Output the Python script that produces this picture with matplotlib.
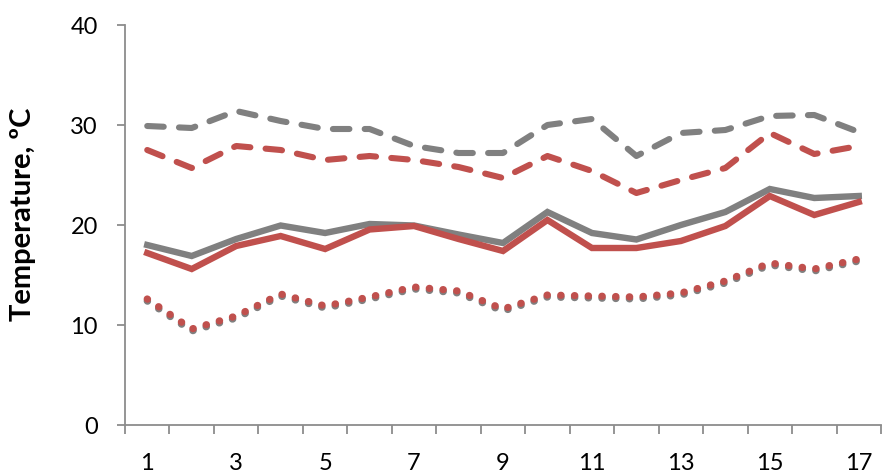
import numpy as np
import matplotlib
matplotlib.use("Agg")
import matplotlib.pyplot as plt
from matplotlib.ticker import FixedLocator

# Données
jours = list(range(1, 18))
gris_tirets = [29.9, 29.7, 31.4, 30.4, 29.6, 29.6, 27.9, 27.2, 27.2, 30.0, 30.6, 26.9, 29.2, 29.5, 30.9, 31.0, 29.3]
rouge_tirets = [27.5, 25.7, 27.9, 27.5, 26.5, 26.9, 26.5, 25.8, 24.7, 26.9, 25.4, 23.2, 24.5, 25.7, 29.2, 27.1, 27.9]
gris_plein = [18.0, 16.9, 18.6, 19.95, 19.2, 20.1, 19.95, 19.05, 18.2, 21.3, 19.2, 18.55, 20.0, 21.3, 23.6, 22.7, 22.9]
rouge_plein = [17.2, 15.6, 17.9, 18.9, 17.6, 19.55, 19.9, 18.6, 17.4, 20.5, 17.7, 17.7, 18.4, 19.9, 22.9, 21.0, 22.3]
gris_points = [12.4, 9.4, 10.7, 12.9, 11.7, 12.6, 13.6, 13.2, 11.4, 12.8, 12.7, 12.6, 13.0, 14.2, 16.0, 15.4, 16.4]
rouge_points = [12.6, 9.6, 10.9, 13.1, 11.9, 12.8, 13.8, 13.4, 11.6, 13.0, 12.9, 12.8, 13.2, 14.4, 16.2, 15.6, 16.6]
etiquettes_x = [1, 3, 5, 7, 9, 11, 13, 15, 17]

GRIS = "#808080"
ROUGE = "#C0504D"
AXE = "#8c8c8c"

plt.rcParams['font.family'] = ['Lato', 'DejaVu Sans']

fig = plt.figure(figsize=(8.87, 4.75), dpi=100)
ax = fig.add_axes([125 / 887, 50 / 475, 756 / 887, 400 / 475])

# Courbes en pointillés (gris dessous, rouge dessus)
pointille = (0, (0.05, 1.85))
ax.plot(jours, gris_points, color=GRIS, lw=5.2, linestyle=pointille,
        dash_capstyle='round', zorder=2)
ax.plot(jours, rouge_points, color=ROUGE, lw=5.2, linestyle=pointille,
        dash_capstyle='round', zorder=3)

# Courbes en tirets
tirets = (0, (2.7, 2.5))
ax.plot(jours, gris_tirets, color=GRIS, lw=4.4, linestyle=tirets,
        dash_capstyle='round', zorder=2)
ax.plot(jours, rouge_tirets, color=ROUGE, lw=4.4, linestyle=tirets,
        dash_capstyle='round', zorder=3)

# Courbes pleines
ax.plot(jours, gris_plein, color=GRIS, lw=4.6, solid_joinstyle='miter', zorder=2)
ax.plot(jours, rouge_plein, color=ROUGE, lw=4.6, solid_joinstyle='miter', zorder=3)

# Axes
ax.set_xlim(0.5, 17.5)
ax.set_ylim(0, 40)
ax.set_yticks([0, 10, 20, 30, 40])
ax.set_xticks(etiquettes_x)
ax.set_xticklabels([str(v) for v in etiquettes_x])
ax.xaxis.set_minor_locator(FixedLocator(np.arange(0.5, 18, 1)))

for s in ['top', 'right']:
    ax.spines[s].set_visible(False)
for s in ['left', 'bottom']:
    ax.spines[s].set_color(AXE)
    ax.spines[s].set_linewidth(1.3)

ax.tick_params(axis='x', which='major', length=0, labelsize=17, pad=20, colors='black')
ax.tick_params(axis='x', which='minor', length=6.5, width=1.3, color=AXE, direction='out')
ax.tick_params(axis='y', length=5.5, width=1.3, color=AXE, labelsize=17, pad=14,
               labelcolor='black')

ax.set_ylabel("Temperature, ºC", fontsize=21, fontweight='bold')
ax.yaxis.set_label_coords(-0.118, 0.527)

fig.savefig("out.png", dpi=100)
